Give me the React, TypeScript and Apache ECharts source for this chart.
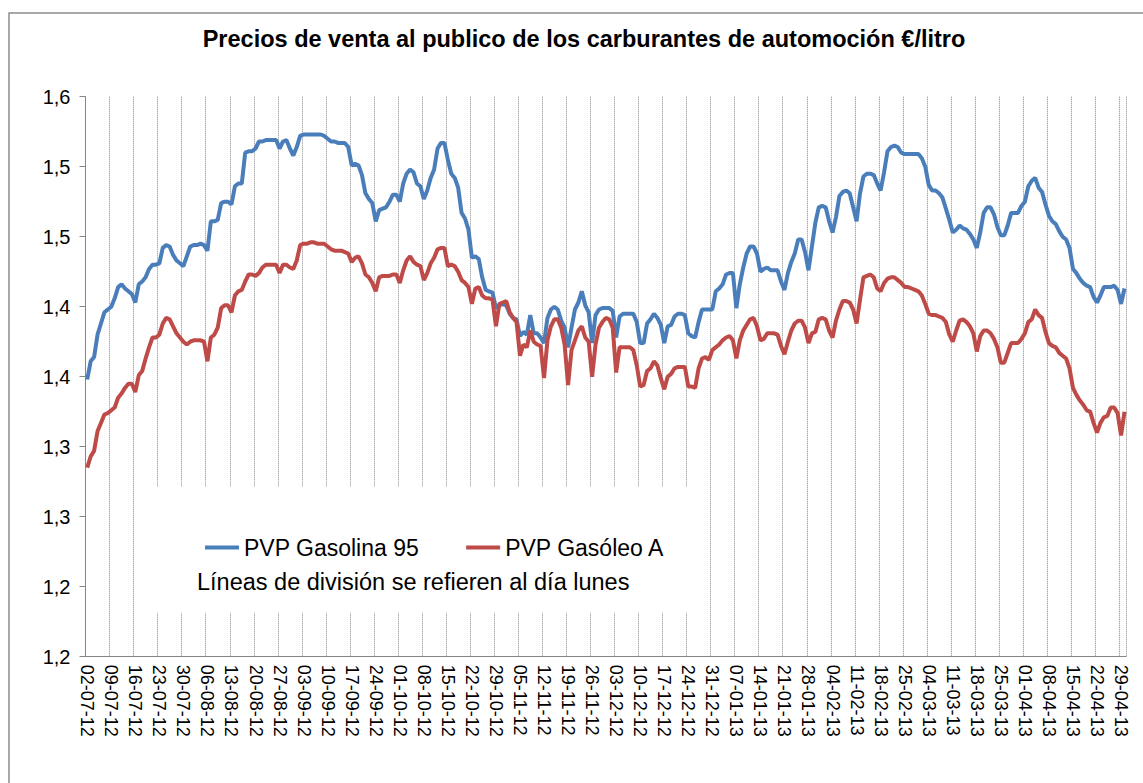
import React, { useEffect, useRef } from "react";
import * as echarts from "echarts";

const TITLE = "Precios de venta al publico de los carburantes de automoción €/litro";
const SERIES_NAMES = ["PVP Gasolina 95", "PVP Gasóleo A"];
const NOTE = "Líneas de división se refieren al día lunes";
// first day 02-07-2012, daily data (303 days, to 30-04-2013)
const START = { year: 2012, month: 6, day: 2 };
const DAY_COUNT = 303;
const Y_TICK_LABELS = ["1,2", "1,2", "1,3", "1,3", "1,4", "1,4", "1,5", "1,5", "1,6"];

// PVP Gasolina 95, one line per week (Monday first)
const GASOLINA = [
  1.398, 1.411, 1.414, 1.430, 1.438, 1.446, 1.448,
  1.450, 1.456, 1.464, 1.466, 1.463, 1.461, 1.459,
  1.453, 1.466, 1.468, 1.471, 1.477, 1.480, 1.480,
  1.481, 1.492, 1.494, 1.493, 1.487, 1.483, 1.481,
  1.479, 1.486, 1.493, 1.494, 1.494, 1.495, 1.494,
  1.490, 1.511, 1.511, 1.512, 1.524, 1.525, 1.525,
  1.523, 1.536, 1.538, 1.538, 1.560, 1.561, 1.561,
  1.563, 1.568, 1.568, 1.569, 1.569, 1.569, 1.569,
  1.563, 1.568, 1.569, 1.563, 1.558, 1.564, 1.572,
  1.573, 1.573, 1.573, 1.573, 1.573, 1.573, 1.572,
  1.570, 1.568, 1.568, 1.567, 1.567, 1.567, 1.564,
  1.551, 1.552, 1.551, 1.544, 1.531, 1.527, 1.524,
  1.511, 1.519, 1.520, 1.521, 1.525, 1.530, 1.530,
  1.525, 1.538, 1.545, 1.548, 1.546, 1.538, 1.536,
  1.527, 1.533, 1.542, 1.548, 1.563, 1.567, 1.567,
  1.555, 1.545, 1.542, 1.535, 1.517, 1.513, 1.505,
  1.485, 1.486, 1.484, 1.471, 1.462, 1.461, 1.460,
  1.449, 1.451, 1.452, 1.451, 1.445, 1.442, 1.441,
  1.429, 1.432, 1.430, 1.444, 1.431, 1.431, 1.428,
  1.424, 1.442, 1.448, 1.450, 1.448, 1.440, 1.435,
  1.421, 1.435, 1.448, 1.453, 1.461, 1.451, 1.446,
  1.424, 1.444, 1.448, 1.449, 1.449, 1.449, 1.447,
  1.428, 1.443, 1.445, 1.445, 1.445, 1.445, 1.439,
  1.424, 1.424, 1.438, 1.441, 1.445, 1.442, 1.437,
  1.424, 1.436, 1.437, 1.443, 1.445, 1.445, 1.444,
  1.431, 1.429, 1.428, 1.439, 1.448, 1.448, 1.448,
  1.448, 1.461, 1.463, 1.466, 1.473, 1.474, 1.474,
  1.449, 1.466, 1.478, 1.488, 1.493, 1.493, 1.488,
  1.475, 1.477, 1.478, 1.476, 1.476, 1.476, 1.468,
  1.462, 1.474, 1.482, 1.488, 1.498, 1.498, 1.489,
  1.476, 1.493, 1.510, 1.521, 1.522, 1.521, 1.511,
  1.503, 1.514, 1.529, 1.532, 1.533, 1.531, 1.521,
  1.511, 1.531, 1.543, 1.545, 1.545, 1.544, 1.538,
  1.533, 1.546, 1.561, 1.564, 1.565, 1.564, 1.560,
  1.559, 1.559, 1.559, 1.559, 1.559, 1.556, 1.550,
  1.537, 1.533, 1.533, 1.531, 1.528, 1.520, 1.512,
  1.503, 1.505, 1.508, 1.506, 1.505, 1.502, 1.498,
  1.492, 1.503, 1.517, 1.521, 1.521, 1.516, 1.507,
  1.501, 1.501, 1.508, 1.517, 1.517, 1.517, 1.522,
  1.525, 1.536, 1.540, 1.542, 1.535, 1.532, 1.523,
  1.515, 1.511, 1.509, 1.504, 1.500, 1.498, 1.492,
  1.477, 1.474, 1.470, 1.467, 1.465, 1.464, 1.457,
  1.453, 1.458, 1.464, 1.464, 1.464, 1.465, 1.462,
  1.452, 1.463,
];

// PVP Gasóleo A, one line per week (Monday first)
const GASOLEO = [
  1.335, 1.343, 1.347, 1.361, 1.367, 1.373, 1.374,
  1.376, 1.378, 1.385, 1.388, 1.392, 1.395, 1.395,
  1.389, 1.401, 1.404, 1.413, 1.421, 1.428, 1.428,
  1.430, 1.438, 1.442, 1.441, 1.436, 1.431, 1.428,
  1.425, 1.423, 1.425, 1.426, 1.426, 1.426, 1.425,
  1.411, 1.428, 1.430, 1.435, 1.449, 1.451, 1.451,
  1.446, 1.458, 1.461, 1.462, 1.468, 1.473, 1.473,
  1.472, 1.474, 1.478, 1.480, 1.480, 1.480, 1.480,
  1.474, 1.480, 1.480, 1.478, 1.477, 1.483, 1.494,
  1.495, 1.495, 1.496, 1.496, 1.495, 1.495, 1.495,
  1.493, 1.491, 1.490, 1.490, 1.490, 1.489, 1.488,
  1.482, 1.485, 1.486, 1.481, 1.473, 1.471, 1.467,
  1.461, 1.471, 1.472, 1.472, 1.472, 1.473, 1.473,
  1.467, 1.476, 1.483, 1.486, 1.482, 1.480, 1.479,
  1.469, 1.474, 1.481, 1.485, 1.491, 1.492, 1.492,
  1.479, 1.480, 1.479, 1.475, 1.469, 1.467, 1.464,
  1.452, 1.463, 1.464, 1.458, 1.456, 1.456, 1.455,
  1.436, 1.452, 1.453, 1.454, 1.446, 1.442, 1.439,
  1.415, 1.423, 1.421, 1.433, 1.425, 1.423, 1.422,
  1.399, 1.426, 1.436, 1.441, 1.441, 1.435, 1.423,
  1.394, 1.419, 1.426, 1.433, 1.436, 1.428, 1.425,
  1.400, 1.423, 1.435, 1.439, 1.442, 1.441, 1.435,
  1.403, 1.421, 1.421, 1.421, 1.421, 1.419, 1.408,
  1.393, 1.394, 1.404, 1.406, 1.411, 1.408, 1.399,
  1.391, 1.400, 1.402, 1.406, 1.407, 1.407, 1.407,
  1.393, 1.393, 1.392, 1.406, 1.413, 1.414, 1.412,
  1.419, 1.421, 1.423, 1.426, 1.428, 1.429, 1.426,
  1.413, 1.426, 1.433, 1.437, 1.441, 1.442, 1.436,
  1.426, 1.427, 1.431, 1.431, 1.431, 1.430, 1.422,
  1.416, 1.425, 1.433, 1.438, 1.440, 1.440, 1.435,
  1.424, 1.431, 1.432, 1.441, 1.442, 1.441, 1.433,
  1.428, 1.440, 1.448, 1.454, 1.454, 1.453, 1.448,
  1.438, 1.455, 1.471, 1.472, 1.473, 1.471, 1.463,
  1.461, 1.467, 1.470, 1.471, 1.471, 1.469, 1.467,
  1.464, 1.464, 1.463, 1.462, 1.461, 1.458, 1.452,
  1.445, 1.444, 1.444, 1.443, 1.442, 1.439, 1.430,
  1.425, 1.433, 1.440, 1.441, 1.439, 1.436, 1.431,
  1.418, 1.429, 1.433, 1.433, 1.431, 1.427, 1.421,
  1.410, 1.410, 1.417, 1.424, 1.424, 1.424, 1.427,
  1.431, 1.439, 1.441, 1.448, 1.444, 1.442, 1.432,
  1.424, 1.422, 1.421, 1.417, 1.415, 1.413, 1.406,
  1.392, 1.387, 1.383, 1.380, 1.376, 1.375, 1.367,
  1.360, 1.367, 1.371, 1.372, 1.378, 1.378, 1.374,
  1.358, 1.375,
];

const COLORS = ["#4A7EBB", "#BE4B48"];
const FONT = "'Liberation Sans', Arial, sans-serif";

function buildCategories(): string[] {
  const out: string[] = [];
  for (let i = 0; i < DAY_COUNT; i++) {
    const d = new Date(Date.UTC(START.year, START.month, START.day + i));
    const dd = String(d.getUTCDate()).padStart(2, "0");
    const mm = String(d.getUTCMonth() + 1).padStart(2, "0");
    const yy = String(d.getUTCFullYear() % 100).padStart(2, "0");
    out.push(`${dd}-${mm}-${yy}`);
  }
  return out;
}

export default function App() {
  const ref = useRef<HTMLDivElement>(null);
  useEffect(() => {
    if (!ref.current) return;
    const chart = echarts.init(ref.current, undefined, { renderer: "svg" });
    const categories = buildCategories();
    const isMonday = (i: number) => i % 7 === 0;
    const axisGray = "#868686";
    chart.setOption({
      animation: false,
      backgroundColor: "#ffffff",
      title: {
        text: TITLE,
        left: 584,
        top: 27,
        textAlign: "center",
        padding: 0,
        textStyle: { fontFamily: FONT, fontSize: 23.5, fontWeight: "bold", color: "#000" },
      },
      grid: { left: 85.5, right: 16.8, top: 96.7, bottom: 126.3, containLabel: false },
      legend: {
        left: 205,
        top: 536,
        padding: 0,
        icon: "rect",
        itemWidth: 34,
        itemHeight: 4,
        itemGap: 47,
        data: SERIES_NAMES,
        textStyle: { fontFamily: FONT, fontSize: 23, color: "#000" },
      },
      xAxis: {
        type: "category",
        data: categories,
        boundaryGap: true,
        axisLine: { lineStyle: { color: axisGray, width: 1 } },
        axisTick: { interval: isMonday, length: 6, lineStyle: { color: axisGray } },
        axisLabel: {
          interval: isMonday,
          rotate: -90,
          fontFamily: FONT,
          fontSize: 18,
          color: "#000",
          margin: 8,
        },
        splitLine: {
          show: true,
          interval: isMonday,
          lineStyle: { type: "dotted", color: "#8a8a8a", width: 1 },
        },
      },
      yAxis: {
        type: "value",
        min: 1.2,
        max: 1.6,
        interval: 0.05,
        axisLine: { show: true, lineStyle: { color: axisGray, width: 1 } },
        axisTick: { show: true, length: 6, lineStyle: { color: axisGray } },
        splitLine: { show: false },
        axisLabel: {
          fontFamily: FONT,
          fontSize: 20,
          color: "#000",
          margin: 15,
          formatter: (v: number) => Y_TICK_LABELS[Math.round((v - 1.2) / 0.05)] ?? "",
        },
      },
      series: [
        {
          name: SERIES_NAMES[0],
          type: "line",
          data: GASOLINA,
          symbol: "none",
          showSymbol: false,
          lineStyle: { width: 4, color: COLORS[0] },
          itemStyle: { color: COLORS[0] },
        },
        {
          name: SERIES_NAMES[1],
          type: "line",
          data: GASOLEO,
          symbol: "none",
          showSymbol: false,
          lineStyle: { width: 4, color: COLORS[1] },
          itemStyle: { color: COLORS[1] },
        },
      ],
      graphic: [
        {
          type: "rect",
          z: 0,
          silent: true,
          shape: { x: 9, y: 13, width: 1160, height: 800 },
          style: { fill: "none", stroke: "#8c8c8c", lineWidth: 1.5 },
        },
        {
          type: "rect",
          z: 1,
          silent: true,
          shape: { x: 145, y: 487, width: 550, height: 126 },
          style: { fill: "#ffffff", stroke: "none" },
        },
        {
          type: "text",
          z: 5,
          x: 197,
          y: 582,
          silent: true,
          style: {
            text: NOTE,
            font: `23.5px ${FONT}`,
            fill: "#000",
            textAlign: "left",
            textVerticalAlign: "middle",
            align: "left",
            verticalAlign: "middle",
          },
        },
      ],
    });
    return () => chart.dispose();
  }, []);
  return (
    <div
      ref={ref}
      style={{ position: "absolute", left: 0, top: 0, width: 1143, height: 783 }}
    />
  );
}
